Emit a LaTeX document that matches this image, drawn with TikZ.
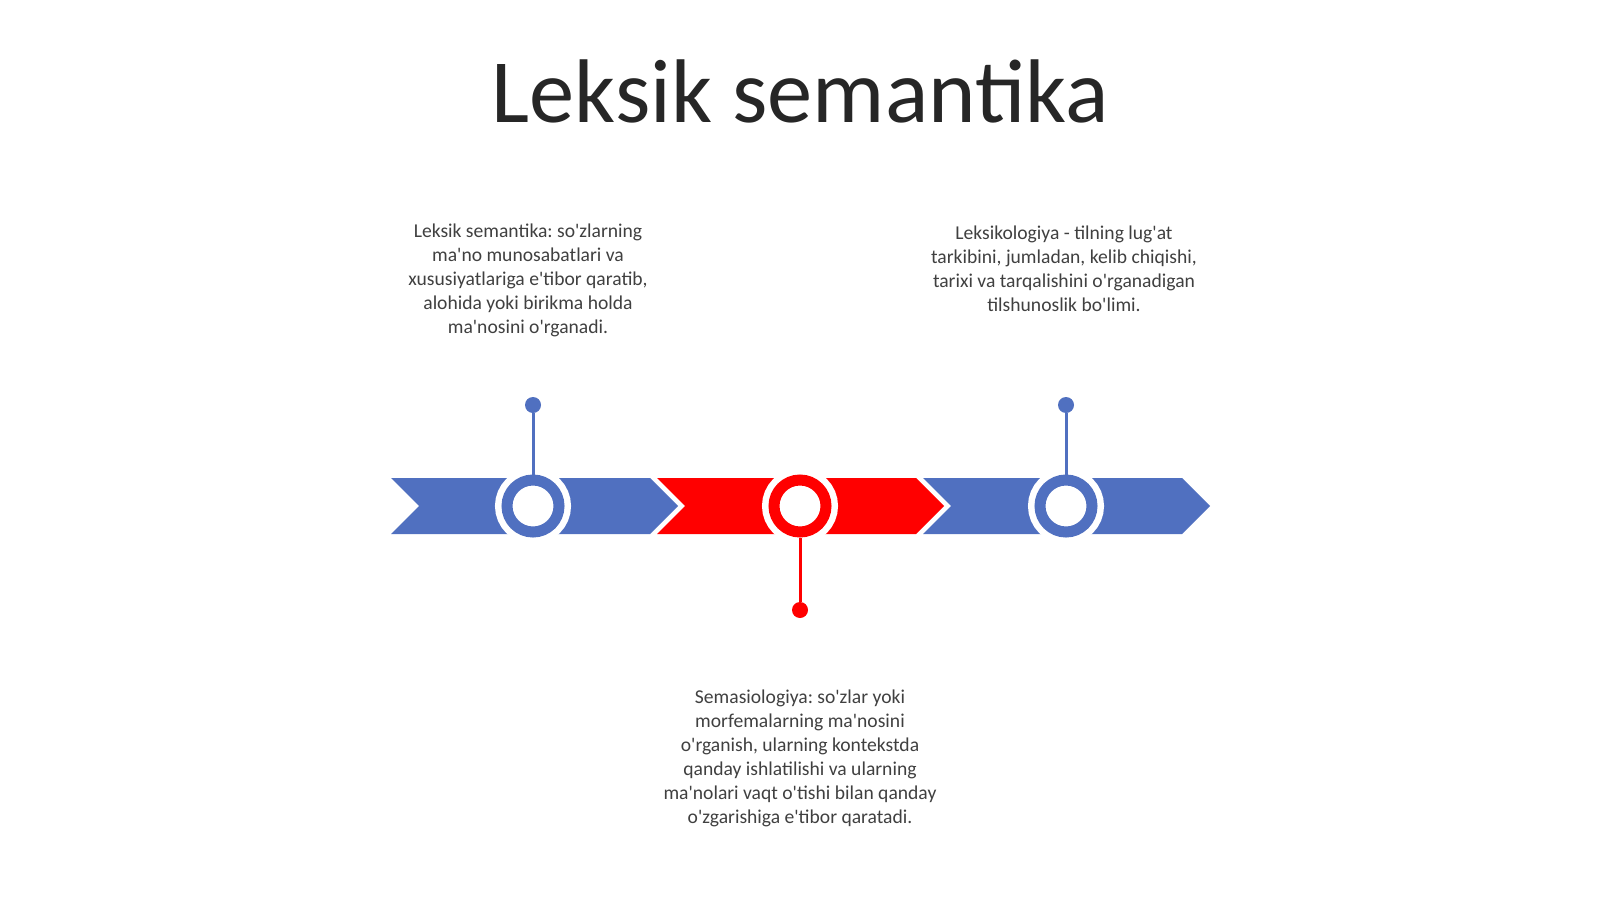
\documentclass[tikz,border=0pt]{standalone}
\usepackage{fontspec}
\setmainfont{Carlito}[Ligatures=TeXOff]
\frenchspacing
\definecolor{tlblue}{RGB}{80,112,192}
\definecolor{tlred}{RGB}{255,0,0}
\definecolor{tltext}{RGB}{64,64,64}
\definecolor{tltitle}{RGB}{38,38,38}
\tikzset{
  ring/.style={circle,inner sep=0pt,minimum size=26pt,fill=white,draw=#1,line width=5.5pt,
    preaction={draw=white,line width=12pt}},
  dot/.style={circle,inner sep=0pt,minimum size=8pt,fill=#1},
  pin/.style={draw=#1,line width=1.5pt},
  note/.style={align=center,inner sep=0pt,text=tltext,font=\fontsize{9.8}{12}\selectfont}
}
\begin{document}
\begin{tikzpicture}[x=0.5pt,y=-0.5pt]
    \useasboundingbox[fill=white] (0,0) rectangle (1600,899);
    \node[text=tltitle,font=\fontsize{45.2}{50}\selectfont] (title) at (800,91) {Leksik semantika};
    % chevrons
    \foreach \x/\c in {391/tlblue,657/tlred,923/tlblue}
      \fill[\c] (\x,478) -- ++(259,0) -- ++(28,28) -- ++(-28,28) -- ++(-259,0) -- ++(28,-28) -- cycle;
    % rings and pins
    \node[ring=tlblue] (c1) at (533,506) {};
    \node[ring=tlred] (c2) at (800,506) {};
    \node[ring=tlblue] (c3) at (1066,506) {};
    \node[dot=tlblue] (d1) at (533,405) {};
    \node[dot=tlred] (d2) at (800,610) {};
    \node[dot=tlblue] (d3) at (1066,405) {};
    \draw[pin=tlblue] (d1) -- (c1);
    \draw[pin=tlred] (d2) -- (c2);
    \draw[pin=tlblue] (d3) -- (c3);
    % notes
    \node[note,anchor=north] (t1) at (528,223) {Leksik semantika: so'zlarning\\ma'no munosabatlari va\\xususiyatlariga e'tibor qaratib,\\alohida yoki birikma holda\\ma'nosini o'rganadi.};
    \node[note,anchor=north] (t3) at (1064,225) {Leksikologiya - tilning lug'at\\tarkibini, jumladan, kelib chiqishi,\\tarixi va tarqalishini o'rganadigan\\tilshunoslik bo'limi.};
    \node[note,anchor=north] (t2) at (800,689) {Semasiologiya: so'zlar yoki\\morfemalarning ma'nosini\\o'rganish, ularning kontekstda\\qanday ishlatilishi va ularning\\ma'nolari vaqt o'tishi bilan qanday\\o'zgarishiga e'tibor qaratadi.};
\end{tikzpicture}
\end{document}
